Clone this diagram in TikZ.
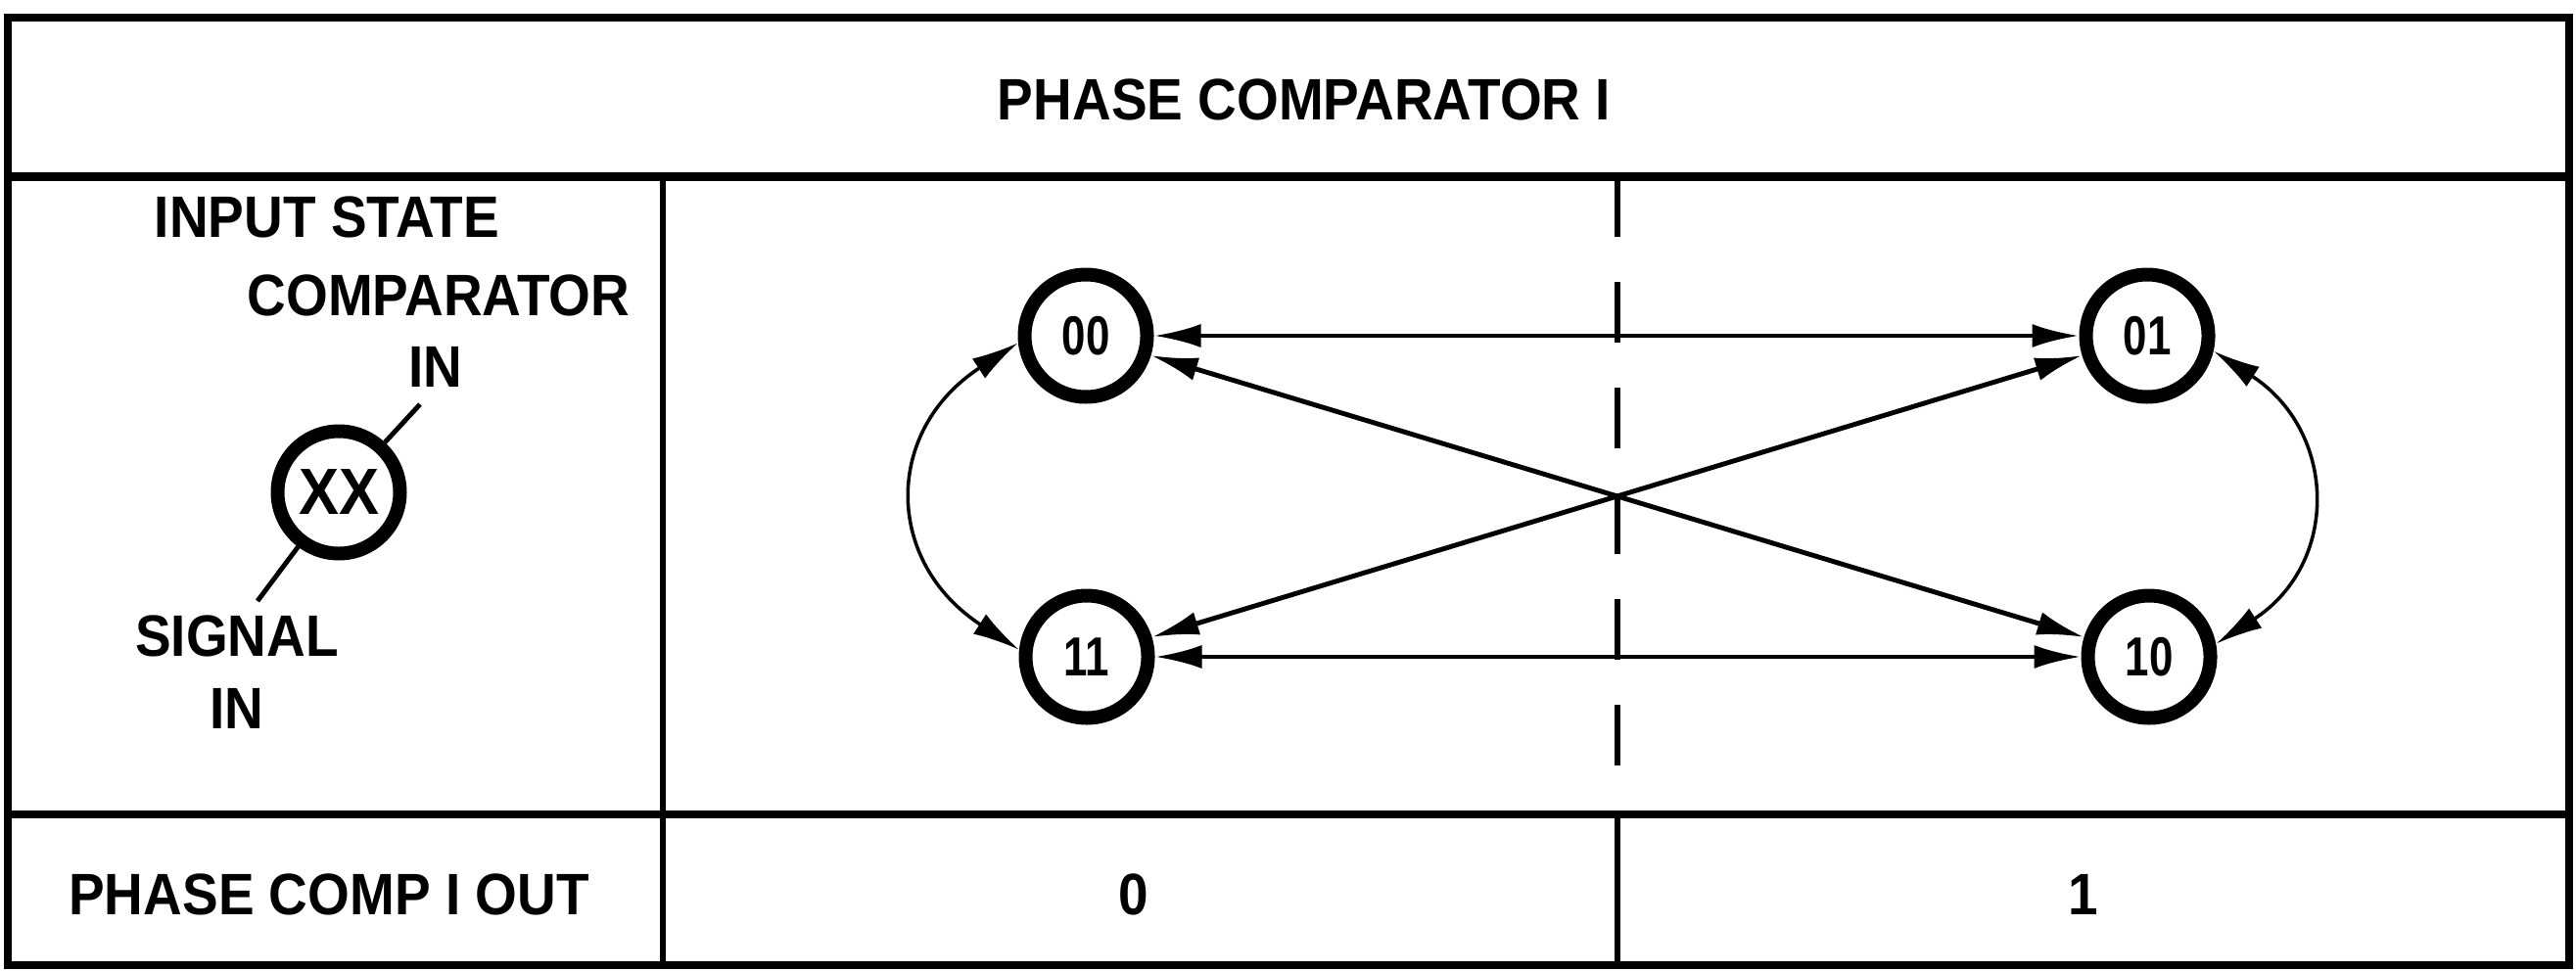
\documentclass[tikz,border=0pt]{standalone}
\usepackage{fontspec}
\setmainfont{Liberation Sans}[FakeStretch=0.92]
\newfontfamily\digitfont{Liberation Sans}[FakeStretch=0.78]
\usetikzlibrary{arrows.meta}

\begin{document}
\begin{tikzpicture}[
    state/.style={circle, draw, line width=0.14cm, minimum size=1.25cm, inner sep=0pt,
        font=\digitfont\bfseries\fontsize{16}{16}\selectfont},
    lbl/.style={inner sep=0pt, font=\bfseries\fontsize{17}{17}\selectfont},
    link/.style={{Latex[length=4.8mm,width=2.4mm]}-{Latex[length=4.8mm,width=2.4mm]}, line width=1.4pt},
    swing/.style={{Latex[length=4.8mm,width=2.4mm]}-{Latex[length=4.8mm,width=2.4mm]}, line width=1pt}
]
    \useasboundingbox (0,0) rectangle (26.31,9.92);
    % Table frame
    \draw[line width=0.08cm] (0.08,0.06) rectangle (26.24,9.74);
    \draw[line width=0.09cm] (0.08,8.12) -- (26.24,8.12);
    \draw[line width=0.08cm] (0.08,1.60) -- (26.24,1.60);
    \draw[line width=0.06cm] (6.77,0.06) -- (6.77,8.12);
    \draw[line width=0.06cm] (16.52,0.06) -- (16.52,1.60);
    \draw[line width=0.06cm, dash pattern=on 0.62cm off 0.46cm] (16.52,8.12) -- (16.52,1.60);
    % Labels
    \node[lbl] (title) at (13.32,8.90) {PHASE COMPARATOR I};
    \node[lbl] (inst) at (3.34,7.70) {INPUT STATE};
    \node[lbl] (cmp) at (4.48,6.90) {COMPARATOR};
    \node[lbl] (cmpi) at (4.45,6.17) {IN};
    \node[lbl] (sig) at (2.42,3.42) {SIGNAL};
    \node[lbl] (sigi) at (2.42,2.68) {IN};
    \node[lbl] (outlbl) at (3.36,0.78) {PHASE COMP I OUT};
    \node[lbl] (out0) at (11.58,0.78) {0};
    \node[lbl] (out1) at (21.28,0.78) {1};
    % Key circle
    \node[state, font=\bfseries\fontsize{19}{19}\selectfont] (xx) at (3.46,4.89) {XX};
    \coordinate (cmpin) at (4.29,5.79);
    \coordinate (sigin) at (2.63,3.78);
    \draw[line width=1.4pt] (xx) -- (cmpin);
    \draw[line width=1.4pt] (xx) -- (sigin);
    % States
    \node[state] (s00) at (11.09,6.49) {00};
    \node[state] (s01) at (21.93,6.49) {01};
    \node[state] (s11) at (11.10,3.21) {11};
    \node[state] (s10) at (21.95,3.21) {10};
    % Transitions
    \draw[link] (s00) -- (s01);
    \draw[link] (s11) -- (s10);
    \draw[link] (s00) -- (s10);
    \draw[link] (s11) -- (s01);
    \draw[swing] (s00.186) to[out=213, in=147, looseness=1.34] (s11.174);
    \draw[swing] (s01.347) to[out=-33, in=33, looseness=1.29] (s10.11);
\end{tikzpicture}
\end{document}
